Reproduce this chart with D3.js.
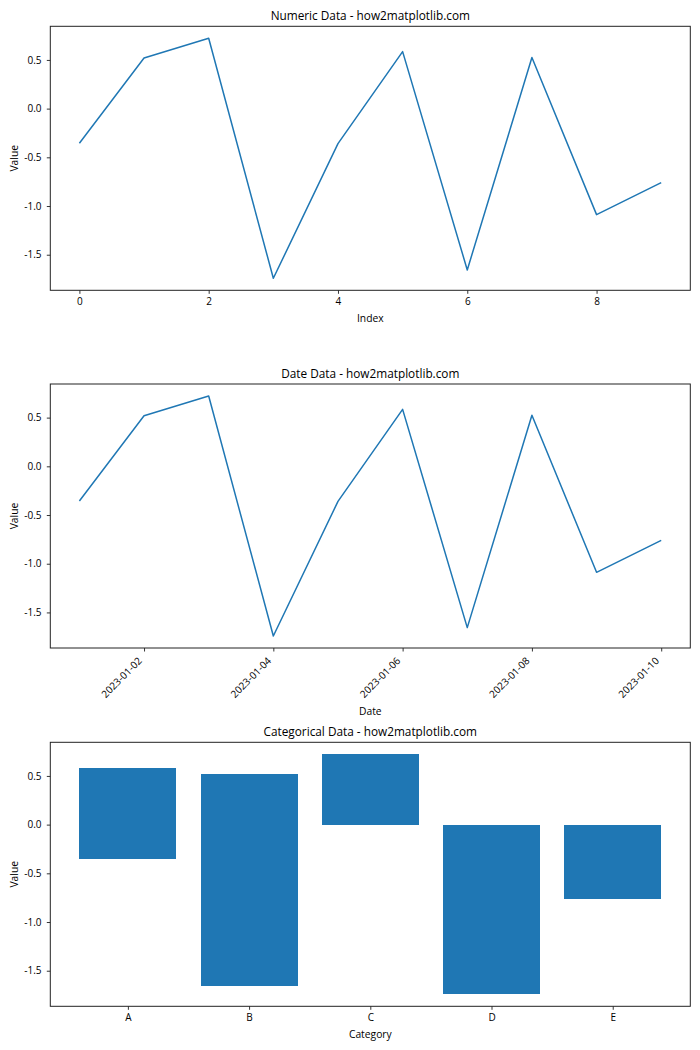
<!DOCTYPE html>
<html><head><meta charset="utf-8">
<script src="https://cdn.jsdelivr.net/npm/d3@7"></script>
<style>
body{margin:0;background:#fff}
text{font-family:"Open Sans",sans-serif;fill:#000}
</style>
</head><body>
<svg id="c" width="700" height="1050"></svg>
<script>
// ---- data ----
const indices = [0,1,2,3,4,5,6,7,8,9];
const values = [-0.356, 0.52, 0.722, -1.742, -0.36, 0.585, -1.656, 0.524, -1.088, -0.76];
const dates = ["2023-01-01","2023-01-02","2023-01-03","2023-01-04","2023-01-05","2023-01-06","2023-01-07","2023-01-08","2023-01-09","2023-01-10"];
const categoryOfPoint = ["A","B","C","D","E","A","B","C","D","E"];
const categories = ["A","B","C","D","E"];
const indexTicks = [0,2,4,6,8];
const dateTicks = ["2023-01-02","2023-01-04","2023-01-06","2023-01-08","2023-01-10"];
const valueTicks = [0.5,0.0,-0.5,-1.0,-1.5];
const titles = ["Numeric Data - how2matplotlib.com","Date Data - how2matplotlib.com","Categorical Data - how2matplotlib.com"];
const xLabels = ["Index","Date","Category"];
const yLabel = "Value";

// ---- layout ----
const svg = d3.select("#c");
const L = 50.3, R = 690.3, H = 264;
const tops = [26.3, 384, 742.3];
const blue = "#1f77b4";
const parse = d3.utcParse("%Y-%m-%d");
const fmtY = d => d3.format(".1f")(d).replace("−","-");

function pad(ext, f=0.05){const d=(ext[1]-ext[0])*f;return [ext[0]-d, ext[1]+d];}
const yExt = pad(d3.extent(values.concat([0])));

function frame(i){
  const top = tops[i], bot = top + H;
  const g = svg.append("g");
  const y = d3.scaleLinear().domain(yExt).range([bot, top]);
  const ya = g.append("g").attr("transform",`translate(${L},0)`)
    .call(d3.axisLeft(y).tickValues(valueTicks).tickFormat(fmtY).tickSize(3.5).tickPadding(4));
  ya.select(".domain").remove();
  ya.selectAll("line").attr("stroke","#000").attr("stroke-width",0.8);
  ya.selectAll("text").style("font-family","Open Sans").style("font-size","10px").attr("fill","#000").attr("dx","-1.3");
  g.append("text").attr("transform",`translate(${17.5},${top+H/2}) rotate(-90)`)
    .attr("text-anchor","middle").style("font-size","10.3px").text(yLabel);
  g.append("text").attr("x",(L+R)/2).attr("y",top-6.3).attr("text-anchor","middle")
    .style("font-size","11.8px").text(titles[i]);
  return {g,y,top,bot};
}
function box(f){
  f.g.append("rect").attr("x",L).attr("y",f.top).attr("width",R-L).attr("height",H)
    .attr("fill","none").attr("stroke","#222").attr("stroke-width",1);
}
function styleX(ax){
  ax.select(".domain").remove();
  ax.selectAll("line").attr("stroke","#000").attr("stroke-width",0.8);
  ax.selectAll("text").style("font-family","Open Sans").style("font-size","10px").attr("fill","#000");
}

// ---- plot 1: numeric ----
{
  const f = frame(0);
  const x = d3.scaleLinear().domain(pad(d3.extent(indices))).range([L,R]);
  const ax = f.g.append("g").attr("transform",`translate(0,${f.bot})`)
    .call(d3.axisBottom(x).tickValues(indexTicks).tickFormat(d3.format("d")).tickSize(3.5).tickPadding(4));
  styleX(ax);
  f.g.append("path").datum(indices.map((d,k)=>[d,values[k]]))
    .attr("fill","none").attr("stroke",blue).attr("stroke-width",1.5).attr("stroke-linejoin","round")
    .attr("d",d3.line().x(d=>x(d[0])).y(d=>f.y(d[1])));
  box(f);
  f.g.append("text").attr("x",(L+R)/2).attr("y",f.bot+31.5).attr("text-anchor","middle").style("font-size","10.3px").text(xLabels[0]);
}

// ---- plot 2: dates ----
{
  const f = frame(1);
  const dd = dates.map(parse);
  const ext = d3.extent(dd), span = ext[1]-ext[0];
  const x = d3.scaleUtc().domain([new Date(+ext[0]-span*0.05), new Date(+ext[1]+span*0.05)]).range([L,R]);
  const ax = f.g.append("g").attr("transform",`translate(0,${f.bot})`)
    .call(d3.axisBottom(x).tickValues(dateTicks.map(parse)).tickFormat(d3.utcFormat("%Y-%m-%d")).tickSize(3.5));
  styleX(ax);
  ax.selectAll(".tick text").attr("text-anchor","end").attr("y",0).attr("dy",0)
    .attr("transform","translate(-2,13.5) rotate(-45)");
  f.g.append("path").datum(dd.map((d,k)=>[d,values[k]]))
    .attr("fill","none").attr("stroke",blue).attr("stroke-width",1.5).attr("stroke-linejoin","round")
    .attr("d",d3.line().x(d=>x(d[0])).y(d=>f.y(d[1])));
  box(f);
  f.g.append("text").attr("x",(L+R)/2).attr("y",f.bot+66.5).attr("text-anchor","middle").style("font-size","10.3px").text(xLabels[1]);
}

// ---- plot 3: categorical bars ----
{
  const f = frame(2);
  const pos = d3.scaleOrdinal().domain(categories).range(categories.map((c,k)=>k));
  const x = d3.scaleLinear().domain(pad([-0.4, categories.length-1+0.4])).range([L,R]);
  const bw = x(0.8)-x(0);
  const ax = f.g.append("g").attr("transform",`translate(0,${f.bot})`)
    .call(d3.axisBottom(x).tickValues(categories.map(c=>pos(c))).tickFormat(k=>categories[k]).tickSize(3.5).tickPadding(4));
  styleX(ax);
  f.g.append("g").attr("shape-rendering","crispEdges").selectAll("rect").data(values.map((v,k)=>({c:categoryOfPoint[k],v})))
    .join("rect")
    .attr("x",d=>x(pos(d.c))-bw/2).attr("width",bw)
    .attr("y",d=>f.y(Math.max(0,d.v))).attr("height",d=>Math.abs(f.y(d.v)-f.y(0)))
    .attr("fill",blue);
  box(f);
  f.g.append("text").attr("x",(L+R)/2).attr("y",f.bot+31.5).attr("text-anchor","middle").style("font-size","10.3px").text(xLabels[2]);
}
</script>
</body></html>
